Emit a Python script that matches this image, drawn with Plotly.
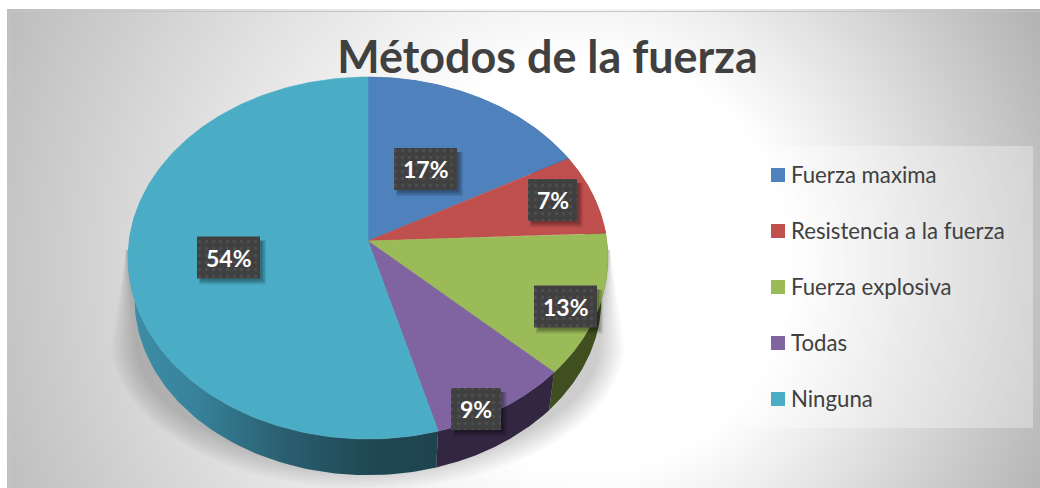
import numpy as np
import plotly.graph_objects as go

# ---- data ----
TITLE = "Métodos de la fuerza"
categories = ["Fuerza maxima", "Resistencia a la fuerza", "Fuerza explosiva", "Todas", "Ninguna"]
values = [17.0, 7.3, 12.7, 8.7, 54.3]

# ---- style ----
top_colors = ["#4f81bd", "#c0504d", "#9bbb59", "#8064a2", "#4bacc6"]
side_colors = ["#2f4d71", "#73302e", "#3f4f20", "#332641", "#1e4450"]
FONT = "Lato"
W, H = 1040, 488

# ---- layout geometry (pixel axes) ----
APEX_X, APEX_Y = 368.0, 241.0
K, AX, AY = -0.0939, 238.9, 179.4      # perspective of the pie disc
ELL_CY = 258.0                         # centre of the projected rim
LOW_CY, LOW_S = 299.0, 0.973           # lower rim of the extrusion
LABEL_CENTERS = [(425.5, 169), (552.5, 200), (565.5, 306.5), (476, 409), (228.5, 257.5)]
LABEL_SIZES = [(63, 42), (49, 42), (63, 42), (50, 42), (63, 42)]
LEGEND_Y = [175, 231, 287, 343, 399]
LEGEND_X = 778
LEGEND_TEXT_X = 789


def rim(theta):
    u, v = np.sin(theta), -np.cos(theta)
    w = 1 + K * v
    return APEX_X + AX * u / w, APEX_Y + AY * v / w


def lower(x, y):
    return APEX_X + (x - APEX_X) * LOW_S, LOW_CY + (y - ELL_CY) * LOW_S


fig = go.Figure()

# background gradient
gx = np.arange(9, W + 4, 4.0)
gy = np.arange(11, H + 4, 4.0)
XX, YY = np.meshgrid(gx, gy)
dx, dy = XX - 580, YY - 265
r = np.hypot(dx, dy)
blend = 0.5 + 0.5 * np.tanh(dx / 120)
kk = 0.155 + (0.245 - 0.155) * blend
r0 = 200 + 10 * blend
z = 255 - kk * np.clip(r - r0, 0, None)
fig.add_trace(go.Heatmap(x=gx, y=gy, z=z, zmin=0, zmax=255, zsmooth="best",
                         colorscale=[[0, "#000000"], [1, "#ffffff"]],
                         showscale=False, hoverinfo="skip"))
fig.add_trace(go.Scatter(x=[9.5, 9.5, W], y=[H, 11.5, 11.5], mode="lines",
                         line=dict(color="#c6c6c6", width=1.2),
                         showlegend=False, hoverinfo="skip"))

# soft shadow under the pie
for i in range(10):
    rx = 256 - i * 2.6
    ry = 146 - i * 2.6
    t = np.linspace(0, np.pi, 80)
    sx = 368 + rx * np.cos(t)
    sy = 343 + ry * np.sin(t)
    sx = np.concatenate([[610], sx, [126]])
    sy = np.concatenate([[250], sy, [250]])
    fig.add_trace(go.Scatter(x=sx, y=sy, mode="lines", fill="toself",
                             fillcolor="rgba(0,0,0,0.02)", line=dict(width=0),
                             showlegend=False, hoverinfo="skip"))

# legend panel
fig.add_trace(go.Scatter(x=[744, 1033, 1033, 744], y=[146, 146, 428, 428], mode="lines",
                         fill="toself", fillcolor="rgba(255,255,255,0.32)", line=dict(width=0),
                         showlegend=False, hoverinfo="skip"))

# slice geometry from the values
frac = np.array(values) / np.sum(values)
edges = np.concatenate([[0], np.cumsum(frac)]) * 2 * np.pi

# extruded side
SIDE_LIMIT = np.radians(283)
for i, name in enumerate(categories):
    a0, a1 = edges[i], min(edges[i + 1], SIDE_LIMIT)
    if a0 >= a1:
        continue
    th = np.linspace(a0, a1, 100)
    x, y = rim(th)
    xb, yb = lower(x, y)
    px = np.concatenate([x, xb[::-1]])
    py = np.concatenate([y, yb[::-1]])
    kw = dict(fillcolor=side_colors[i])
    if i == len(categories) - 1:
        kw = dict(fillgradient=dict(type="horizontal", colorscale=[
            [0, "#3d8ea8"], [0.22, "#37829a"], [0.5, "#2a5f70"],
            [0.78, "#1f4853"], [1, "#1e4450"]]))
    fig.add_trace(go.Scatter(x=px, y=py, mode="lines", fill="toself", line=dict(width=0),
                             showlegend=False, hoverinfo="skip", **kw))

# top surface
for i, name in enumerate(categories):
    th = np.linspace(edges[i], edges[i + 1], 200)
    x, y = rim(th)
    fig.add_trace(go.Scatter(x=np.concatenate([[APEX_X], x, [APEX_X]]),
                             y=np.concatenate([[APEX_Y], y, [APEX_Y]]),
                             mode="lines", fill="toself", fillcolor=top_colors[i],
                             line=dict(width=0.6, color=top_colors[i]), name=name, showlegend=False,
                             hoverinfo="skip"))

# data labels
for i, (val, (cx, cy), (bw, bh)) in enumerate(zip(values, LABEL_CENTERS, LABEL_SIZES)):
    for j in range(4):
        g = j * 1.3
        fig.add_trace(go.Scatter(
            x=[cx - bw / 2 + 4 - g / 2, cx + bw / 2 + 2 + g, cx + bw / 2 + 2 + g, cx - bw / 2 + 4 - g / 2],
            y=[cy - bh / 2 + 4, cy - bh / 2 + 4, cy + bh / 2 + 2 + g, cy + bh / 2 + 2 + g],
            mode="lines", fill="toself", fillcolor="rgba(0,0,0,0.10)", line=dict(width=0),
            showlegend=False, hoverinfo="skip"))
    fig.add_trace(go.Scatter(
        x=[cx - bw / 2, cx + bw / 2, cx + bw / 2, cx - bw / 2],
        y=[cy - bh / 2, cy - bh / 2, cy + bh / 2, cy + bh / 2],
        mode="lines", fill="toself", line=dict(width=0),
        fillpattern=dict(shape=".", bgcolor="#404040", fgcolor="#5c5c5c", size=7, solidity=0.18),
        showlegend=False, hoverinfo="skip"))
    fig.add_annotation(x=cx, y=cy, text=f"<b>{round(val)}%</b>", showarrow=False,
                       xref="x", yref="y", font=dict(family=FONT, size=23, color="#ffffff"))

# legend entries
for name, color, ly in zip(categories, top_colors, LEGEND_Y):
    fig.add_trace(go.Scatter(x=[LEGEND_X], y=[ly], mode="markers", name=name,
                             marker=dict(symbol="square", size=14, color=color, line=dict(width=0)),
                             showlegend=False, hoverinfo="skip"))
    fig.add_annotation(x=LEGEND_TEXT_X, y=ly - 1, text=name, showarrow=False, xanchor="left",
                       xref="x", yref="y", font=dict(family=FONT, size=22.2, color="#404040"))

fig.update_layout(
    width=W, height=H, margin=dict(l=0, r=0, t=0, b=0),
    paper_bgcolor="#ffffff", plot_bgcolor="#ffffff", showlegend=False,
    title=dict(text=f"<b>{TITLE}</b>", x=547.5 / W, y=1 - 57 / H, xanchor="center", yanchor="middle",
               font=dict(family=FONT, size=44.9, color="#404040")),
    xaxis=dict(range=[0, W], visible=False, fixedrange=True),
    yaxis=dict(range=[H, 0], visible=False, fixedrange=True),
)

fig.write_html("out.html", config=dict(displayModeBar=False),
               post_script="document.body.style.margin='0';document.body.style.overflow='hidden';")
